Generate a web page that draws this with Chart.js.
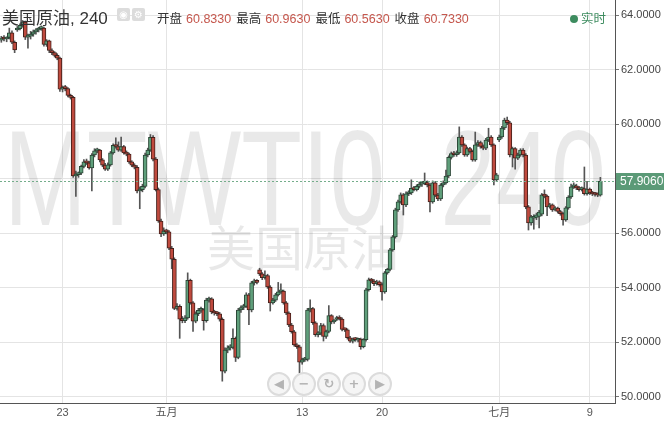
<!DOCTYPE html>
<html>
<head>
<meta charset="utf-8">
<script src="https://cdn.jsdelivr.net/npm/chart.js@4.4.1/dist/chart.umd.min.js"></script>
<style>
  html,body{margin:0;padding:0;background:#fff;}
  #wrap{position:relative;width:664px;height:421px;overflow:hidden;font-family:"Liberation Sans","Noto Sans CJK SC",sans-serif;}
  canvas{position:absolute;left:0;top:0;}
  .ov{position:absolute;white-space:nowrap;}
  #title{left:2px;top:4px;font-size:17px;color:#333;}
  .ico{position:absolute;top:8px;width:13px;height:13px;background:#dcdcdc;border-radius:2px;color:#fff;font-size:10px;line-height:13px;text-align:center;font-family:"DejaVu Sans",sans-serif;}
  #ohlc{left:157px;top:8px;font-size:12.5px;color:#333;}
  #ohlc .v{color:#c5574d;margin-right:5px;margin-left:4px;}
  #live{left:570px;top:8px;font-size:12.5px;color:#3d8c5f;}
  #live .dot{display:inline-block;width:8px;height:8px;border-radius:50%;background:#3d8c5f;margin-right:3px;vertical-align:0px;}
  .nav{position:absolute;top:372px;width:20px;height:20px;border-radius:50%;border:2px solid #dcdcdc;background:rgba(244,244,244,0.92);color:#b4b4b4;font-family:"DejaVu Sans",sans-serif;font-size:13px;line-height:20px;text-align:center;font-weight:bold;}
</style>
</head>
<body>
<div id="wrap">
  <canvas id="c" width="664" height="421"></canvas>
  <div id="title" class="ov">美国原油, 240</div>
  <div class="ico" style="left:117px;">◉</div>
  <div class="ico" style="left:132px;">⚙</div>
  <div id="ohlc" class="ov">开盘<span class="v">60.8330</span>最高<span class="v">60.9630</span>最低<span class="v">60.5630</span>收盘<span class="v">60.7330</span></div>
  <div id="live" class="ov"><span class="dot"></span>实时</div>
  <div class="nav" style="left:267px;">◀</div>
  <div class="nav" style="left:292px;">−</div>
  <div class="nav" style="left:317px;">↻</div>
  <div class="nav" style="left:342px;">+</div>
  <div class="nav" style="left:368px;">▶</div>
</div>
<script>
// ---- data ----
const slotCount = 231;
const tickLabels = ['23', '五月', '13', '20', '七月', '9'];
const tickSlots = [23, 62, 113, 143, 187, 221];
const yTicks = [50, 52, 54, 56, 58, 60, 62, 64];

const opens = [63.08,63.15,63.12,63.18,63.35,63.00,63.45,63.50,63.62,63.74,
63.19,63.22,63.30,63.38,63.45,63.50,63.52,62.92,63.05,62.70,
62.62,62.52,62.42,61.28,61.32,61.30,61.05,60.98,58.10,58.15,
58.20,58.45,58.62,58.58,58.40,58.87,59.02,59.05,58.69,58.50,
58.35,58.51,58.95,59.22,59.18,59.05,59.18,58.95,58.90,58.62,
58.50,58.42,57.55,57.60,57.72,58.87,59.05,59.52,58.72,57.60,
56.45,55.98,56.08,56.05,55.45,55.05,53.25,53.32,52.85,52.80,
52.90,54.28,53.45,52.78,53.05,53.18,53.20,52.80,53.55,53.60,
53.12,53.08,53.05,52.85,50.95,51.72,51.80,51.82,52.15,51.45,
53.19,53.28,53.32,53.74,53.19,54.18,54.25,54.66,54.51,54.37,
54.45,54.03,53.45,53.55,53.74,53.85,53.88,53.45,53.08,52.64,
52.39,51.91,51.84,51.28,51.36,51.38,53.19,53.24,52.72,52.28,
52.34,52.62,52.22,52.40,52.98,52.75,52.84,52.92,52.86,52.48,
52.46,52.17,52.05,52.12,52.08,52.12,51.84,52.10,53.93,54.29,
54.25,54.15,54.22,54.12,53.85,54.55,54.68,55.39,55.87,56.86,
57.15,57.41,57.04,57.45,57.48,57.65,57.60,57.72,57.80,57.83,
57.86,57.77,57.15,57.85,57.40,57.26,57.77,57.85,58.10,58.78,
58.92,58.88,58.95,59.53,59.24,58.87,59.10,59.00,58.69,59.24,
59.32,59.18,59.12,59.42,59.53,59.24,57.96,59.42,59.53,59.86,
60.15,60.05,58.87,59.10,58.75,58.87,59.05,58.87,56.97,56.38,
56.55,56.58,56.62,56.70,57.41,57.36,56.97,57.04,56.86,56.92,
56.80,56.72,56.49,56.93,57.33,57.70,57.74,57.66,57.60,57.64,
57.45,57.62,57.48,57.44,57.42,57.40];

const highs = [63.22,63.25,63.20,63.52,63.42,63.05,63.58,63.68,63.80,63.78,
63.30,63.40,63.45,63.50,63.55,63.60,63.56,63.10,63.08,62.76,
62.66,62.58,62.46,61.40,61.42,61.34,61.10,61.02,58.28,58.25,
58.50,58.70,58.72,58.64,58.92,59.10,59.12,59.08,58.74,58.56,
58.58,59.00,59.28,59.50,59.35,59.53,59.22,59.02,58.94,58.66,
58.55,58.48,57.70,57.80,58.94,59.12,59.62,59.58,58.78,57.66,
56.52,56.20,56.15,56.10,55.52,55.10,53.42,53.38,52.95,52.98,
54.55,54.32,53.50,53.12,53.25,53.30,53.24,53.62,53.66,53.64,
53.18,53.14,53.10,52.90,51.80,51.88,51.92,52.50,52.20,53.25,
53.34,53.40,53.82,53.80,54.24,54.32,54.30,54.72,54.56,54.62,
54.50,54.08,53.62,53.80,54.20,54.15,53.92,53.50,53.12,52.70,
52.44,51.96,51.90,51.42,51.45,53.25,53.56,53.28,52.76,52.40,
52.70,52.68,52.45,53.35,53.02,52.84,52.96,52.98,52.90,52.54,
52.50,52.22,52.16,52.18,52.16,52.16,52.14,53.98,54.36,54.35,
54.30,54.28,54.26,54.18,54.60,54.72,55.45,55.92,56.92,57.22,
57.48,57.46,57.52,57.56,57.96,57.72,57.78,57.88,57.90,58.21,
57.92,57.82,57.92,57.90,57.46,57.82,57.92,58.32,58.84,58.98,
59.00,59.02,59.90,59.58,59.28,59.16,59.15,59.05,59.71,59.40,
59.38,59.24,59.48,59.85,59.58,59.28,58.20,59.60,59.92,60.22,
60.26,60.10,59.16,59.14,58.94,59.10,59.10,58.92,57.02,56.66,
56.68,56.74,56.84,57.46,57.59,57.40,57.10,57.08,56.98,56.96,
56.84,56.76,56.98,57.38,57.80,57.85,57.80,57.72,57.70,58.43,
57.90,57.66,57.54,57.50,57.48,58.05];

const lows = [63.00,63.05,63.02,63.12,62.95,62.62,63.40,63.45,63.55,63.10,
62.78,63.12,63.22,63.30,63.38,63.44,62.86,62.85,62.62,62.55,
62.46,62.36,61.20,61.18,61.22,61.00,60.92,58.05,57.35,58.05,
58.15,58.40,58.52,58.35,57.55,58.80,58.95,58.62,58.44,58.30,
58.30,58.46,58.90,59.12,59.00,59.00,58.90,58.84,58.56,58.44,
58.36,57.48,56.90,57.52,57.66,58.80,59.00,58.65,57.55,56.40,
55.88,55.92,55.98,55.40,54.70,53.20,53.18,52.15,52.72,52.72,
52.85,53.40,52.40,52.72,52.98,53.10,52.45,52.74,53.48,53.05,
53.00,52.98,52.78,50.58,50.88,51.62,51.72,51.76,51.30,51.40,
53.10,53.20,53.28,52.65,53.12,54.10,54.14,54.45,54.30,54.32,
53.98,53.15,53.40,53.50,53.70,53.80,53.40,53.02,52.58,52.34,
51.86,51.78,50.88,51.20,51.30,51.32,53.12,52.66,52.22,52.20,
52.28,52.05,52.15,52.35,52.68,52.70,52.80,52.82,52.42,52.40,
52.12,52.00,51.98,52.04,52.02,51.75,51.80,52.05,53.88,54.18,
54.08,54.10,54.06,53.55,53.80,54.50,54.62,55.34,55.82,56.80,
57.10,56.67,56.98,57.38,57.42,57.55,57.55,57.66,57.72,57.78,
57.70,56.78,57.10,57.34,57.20,57.20,57.70,57.80,58.04,58.72,
58.82,58.82,58.90,59.18,58.82,58.82,58.94,58.64,58.64,59.18,
59.12,59.06,59.06,59.36,59.18,57.77,57.90,59.36,59.48,59.80,
59.98,58.80,58.43,58.35,58.70,58.82,58.80,56.90,56.12,56.30,
56.15,56.50,56.20,56.64,57.30,56.65,56.92,56.80,56.82,56.74,
56.66,56.30,56.44,56.88,57.28,57.64,57.60,57.54,57.55,57.40,
57.40,57.42,57.38,57.36,57.34,57.36];

const closes = [63.15,63.12,63.18,63.35,63.00,62.72,63.50,63.62,63.74,63.19,
63.22,63.30,63.38,63.45,63.50,63.52,62.92,63.05,62.70,62.62,
62.52,62.42,61.28,61.32,61.30,61.05,60.98,58.10,58.15,58.20,
58.45,58.62,58.58,58.40,58.87,59.02,59.05,58.69,58.50,58.35,
58.51,58.95,59.22,59.18,59.05,59.18,58.95,58.90,58.62,58.50,
58.42,57.55,57.60,57.72,58.87,59.05,59.52,58.72,57.60,56.45,
55.98,56.08,56.05,55.45,55.05,53.25,53.32,52.85,52.80,52.90,
54.28,53.45,52.78,53.05,53.18,53.20,52.80,53.55,53.60,53.12,
53.08,53.05,52.85,50.95,51.72,51.80,51.82,52.15,51.45,53.19,
53.28,53.32,53.74,53.19,54.18,54.25,54.20,54.51,54.37,54.45,
54.03,53.45,53.55,53.74,53.85,53.88,53.45,53.08,52.64,52.39,
51.91,51.84,51.28,51.36,51.38,53.19,53.24,52.72,52.28,52.34,
52.62,52.22,52.40,52.98,52.75,52.78,52.90,52.86,52.48,52.46,
52.17,52.05,52.12,52.10,52.12,51.84,52.10,53.93,54.29,54.25,
54.15,54.22,54.12,53.85,54.55,54.68,55.39,55.87,56.86,57.15,
57.41,57.04,57.45,57.48,57.65,57.60,57.72,57.80,57.83,57.86,
57.77,57.15,57.85,57.40,57.26,57.77,57.85,58.10,58.78,58.92,
58.88,58.95,59.53,59.24,58.87,59.10,59.00,58.69,59.24,59.32,
59.18,59.12,59.42,59.53,59.24,57.96,58.14,59.53,59.86,60.15,
60.05,58.87,59.10,58.75,58.87,59.05,58.87,56.97,56.38,56.60,
56.62,56.68,56.78,57.41,57.36,56.97,57.04,56.86,56.92,56.80,
56.72,56.49,56.93,57.33,57.70,57.74,57.66,57.60,57.64,57.45,
57.62,57.48,57.44,57.42,57.40,57.906];

const lastPrice = closes[closes.length - 1];

// ---- build ----
const categories = Array.from({length: slotCount}, () => '');
tickSlots.forEach((s, k) => { categories[s] = tickLabels[k]; });

const bodies = opens.map((o, i) => [o, closes[i]]);
const wicks = lows.map((l, i) => [l, highs[i]]);
const isUp = opens.map((o, i) => closes[i] >= o);
const bodyFill = isUp.map(u => u ? '#5f9f7b' : '#bf4a3e');
const bodyEdge = isUp.map(u => u ? '#2a4535' : '#45201b');

const watermark = {
  id: 'watermark',
  beforeDatasetsDraw(chart) {
    const ctx = chart.ctx;
    ctx.save();
    ctx.fillStyle = 'rgba(0,0,0,0.085)';
    ctx.font = '100px "Liberation Sans", Arial, sans-serif';
    ctx.textBaseline = 'alphabetic';
    const w = ctx.measureText('MTWTI0, 240').width;
    ctx.translate(4, 225);
    ctx.scale(602 / w, 1.36);
    ctx.fillText('MTWTI0, 240', 0, 0);
    ctx.restore();
    ctx.save();
    ctx.fillStyle = 'rgba(0,0,0,0.09)';
    ctx.font = '48px "Noto Sans CJK SC", sans-serif';
    ctx.textAlign = 'center';
    ctx.textBaseline = 'middle';
    ctx.fillText('美国原油', 303, 248);
    ctx.restore();
  }
};

const priceLine = {
  id: 'priceLine',
  afterDatasetsDraw(chart) {
    const {ctx, chartArea} = chart;
    const y = Math.round(chart.scales.y.getPixelForValue(lastPrice)) + 0.5;
    ctx.save();
    ctx.strokeStyle = '#74ad8b';
    ctx.lineWidth = 1;
    ctx.setLineDash([2, 2]);
    ctx.beginPath();
    ctx.moveTo(chartArea.left, y);
    ctx.lineTo(chartArea.right, y);
    ctx.stroke();
    ctx.restore();
  },
  afterDraw(chart) {
    const {ctx, chartArea} = chart;
    const y = Math.round(chart.scales.y.getPixelForValue(lastPrice));
    ctx.save();
    ctx.fillStyle = '#5b9a77';
    ctx.fillRect(chartArea.right + 1, y - 8, 664 - chartArea.right - 1, 17);
    ctx.fillStyle = '#ffffff';
    ctx.font = '12px "Liberation Sans", Arial, sans-serif';
    ctx.textBaseline = 'middle';
    ctx.fillText(lastPrice.toFixed(4), chartArea.right + 5, y + 1);
    ctx.restore();
  }
};

new Chart(document.getElementById('c'), {
  type: 'bar',
  data: {
    labels: categories,
    datasets: [
      {
        label: 'body', data: bodies, grouped: false, order: 0,
        barThickness: 4, minBarLength: 2,
        backgroundColor: bodyFill, borderColor: bodyEdge,
        borderWidth: 1, borderSkipped: false
      },
      {
        label: 'wick', data: wicks, grouped: false, order: 1,
        barThickness: 1, backgroundColor: '#555555', borderWidth: 0
      }
    ]
  },
  options: {
    responsive: false,
    animation: false,
    layout: {padding: 0},
    plugins: {legend: {display: false}, tooltip: {enabled: false}},
    scales: {
      x: {
        offset: true,
        grid: {
          offset: false, drawTicks: false,
          color: c => categories[c.index] ? '#e4e4e4' : 'rgba(0,0,0,0)'
        },
        border: {color: '#555', width: 1},
        ticks: {
          autoSkip: false, maxRotation: 0, minRotation: 0, padding: 3,
          color: '#555', font: {size: 11, family: '"Liberation Sans","Noto Sans CJK SC",sans-serif'},
          callback: (v, i) => categories[i]
        },
        afterFit: s => { s.height = 18; s.paddingLeft = 0; s.paddingRight = 0; }
      },
      y: {
        position: 'right',
        min: 49.78, max: 64.55,
        afterBuildTicks: s => { s.ticks = yTicks.map(v => ({value: v})); },
        ticks: {
          padding: 2, color: '#444',
          font: {size: 11, family: '"Liberation Sans",Arial,sans-serif'},
          callback: v => Number(v).toFixed(4)
        },
        grid: {color: '#e4e4e4', tickColor: '#777', tickLength: 4},
        border: {color: '#555', width: 1},
        afterFit: s => { s.width = 49; s.paddingTop = 0; s.paddingBottom = 0; }
      }
    }
  },
  plugins: [watermark, priceLine]
});
</script>
</body>
</html>
